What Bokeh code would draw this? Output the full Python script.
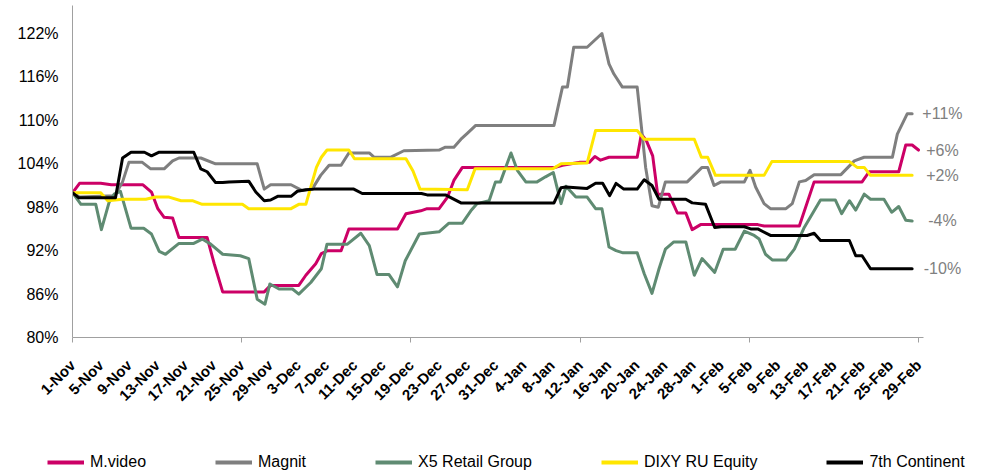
import math
from bokeh.plotting import figure
from bokeh.layouts import column
from bokeh.models import Range1d, FixedTicker, Legend, LegendItem, ColumnDataSource
from bokeh.core.properties import value
from bokeh.embed import file_html
from bokeh.resources import INLINE

# ---------------- data (days since 1-Nov, index level, 100 = start) ----------------
SERIES_NAMES = ["M.video", "Magnit", "X5 Retail Group", "DIXY RU Equity", "7th Continent"]
END_LABELS = ["+6%", "+11%", "-4%", "+2%", "-10%"]

MVIDEO_DAYS = [0, 1, 4, 5.5, 10, 11.2, 12.1, 13, 14.2, 15.1, 19.1, 20.1, 21.3, 27.2, 28.1, 32.1, 33.1,
               34.5, 35.3, 36.2, 38.1, 39.2, 46.1, 47.3, 49.4, 50.3, 52, 53.2, 54.1, 55.3, 68.5, 69.5,
               72, 73.3, 74.1, 74.9, 76.1, 80.1, 80.7, 81.4, 82.3, 83, 84.6, 85.8, 87, 87.9, 89.1, 97.2,
               98.1, 103.1, 105.2, 112, 113, 117.2, 118.2, 119.1, 120]
MVIDEO_VALS = [100, 101.3, 101.3, 101.1, 101.1, 100.1, 97.8, 96.6, 96.5, 93.8, 93.8, 90.2, 86.3, 86.3,
               87.2, 87.2, 88.6, 90.2, 91.6, 92.0, 92.0, 95.0, 95.0, 97.1, 97.5, 97.8, 97.8, 99.4, 101.7,
               103.5, 103.5, 103.8, 104.2, 104.2, 105.0, 104.5, 104.9, 104.9, 108.1, 107.2, 105.1, 99.8,
               99.8, 97.2, 97.2, 94.9, 95.6, 95.6, 95.4, 95.4, 101.5, 101.5, 102.9, 102.9, 106.6, 106.6,
               105.9]

MAGNIT_DAYS = [0, 1, 6, 7.1, 8, 9.9, 11.1, 13, 14.2, 15.1, 18.2, 20.3, 26.2, 27.2, 28.1, 31, 32.6, 34,
               35.2, 36.4, 38.1, 39.2, 42.1, 42.8, 45.1, 47, 52, 52.9, 54.1, 55.1, 56, 57.2, 68.3, 69.5,
               70.2, 71.1, 73, 75.1, 76.1, 76.8, 78, 80.1, 80.6, 81.3, 82.2, 83.1, 84.1, 87.2, 89.3, 90.1,
               91, 92, 95.3, 96.1, 96.9, 98.1, 99, 101.2, 102.1, 103.1, 104, 105.2, 109, 110.9, 112.3,
               116.3, 117, 118.4, 119.1]
MAGNIT_VALS = [100, 99.4, 99.6, 101.5, 104.2, 104.2, 103.3, 103.3, 104.4, 104.8, 104.8, 104.0, 104.0,
               100.5, 101.1, 101.1, 100.3, 100.5, 102.4, 103.8, 103.8, 105.5, 105.5, 104.9, 104.9, 105.8,
               105.9, 106.3, 106.3, 107.4, 108.2, 109.3, 109.3, 114.6, 114.6, 120.1, 120.1, 122.0, 117.8,
               116.4, 114.6, 114.6, 110.0, 103.5, 98.2, 98.0, 101.5, 101.5, 103.5, 103.5, 101.0, 101.5,
               101.5, 103.1, 100.8, 98.5, 97.8, 97.8, 98.5, 101.5, 101.7, 102.5, 102.5, 104.4, 104.9,
               104.9, 108.1, 110.9, 110.9]

X5_DAYS = [0, 1.2, 3.3, 4.1, 5.2, 5.9, 6.8, 8.3, 10.1, 11.2, 12.3, 13.2, 15.1, 17.2, 18.4, 19.6, 21.3,
           23.8, 25, 26.2, 27.3, 28, 29.3, 31.2, 32.1, 33.8, 35.3, 36.1, 39, 40.9, 42.1, 43.2, 44.9,
           46.1, 47.2, 49.2, 52, 53.4, 55.3, 56.5, 57.4, 59.1, 60, 60.7, 62.2, 63.1, 64.3, 65.9, 67.1,
           68.2, 69.3, 70, 71.4, 73, 74.2, 75.1, 76.1, 77.1, 78.1, 80.1, 81.1, 82.2, 83.2, 84.1, 85.3,
           87, 88.2, 89.3, 91.1, 92.3, 94, 95.3, 96.7, 97.4, 98.3, 99.3, 101.2, 102.4, 103.8, 105.2,
           106.1, 108.2, 109.1, 110.2, 111.1, 112.3, 113.2, 115.1, 116.2, 117.2, 118.2, 119.1]
X5_VALS = [100, 98.4, 98.4, 94.9, 98.7, 99.8, 100.2, 95.1, 95.1, 94.3, 91.9, 91.5, 93.0, 93.0, 93.6,
           92.9, 91.5, 91.3, 90.9, 85.3, 84.6, 87.4, 86.7, 86.7, 86.0, 87.6, 89.5, 92.9, 92.9, 94.4,
           92.7, 88.7, 88.7, 87.0, 90.6, 94.3, 94.6, 95.8, 95.8, 97.5, 98.5, 98.9, 101.5, 101.5, 105.5,
           103.1, 101.5, 101.5, 102.2, 102.8, 98.5, 100.9, 99.4, 99.4, 97.8, 97.8, 92.5, 92.0, 91.7,
           91.7, 88.8, 86.1, 89.5, 92.2, 93.2, 93.2, 88.6, 90.9, 89.0, 92.2, 92.2, 94.7, 94.1, 93.6,
           91.5, 90.7, 90.7, 92.2, 95.2, 97.5, 99.0, 99.0, 97.1, 98.9, 97.6, 99.8, 99.1, 99.1, 97.3,
           98.1, 96.2, 96.1]

DIXY_DAYS = [0, 4, 5, 7.1, 10.4, 11.8, 13.7, 15.4, 17, 18.4, 24.1, 25, 31, 32.1, 33.1, 34.6, 35.3, 36.1,
             39.2, 40, 47.3, 48.3, 49.3, 56, 57.1, 68.1, 69.3, 73, 74.2, 80.1, 81.1, 88.2, 89.2, 90.1,
             91.2, 98.1, 99.2, 110.2, 111.3, 112.3, 113.2, 119.1]
DIXY_VALS = [100, 100, 98.9, 99.1, 99.1, 99.4, 99.4, 98.9, 98.9, 98.4, 98.4, 97.8, 97.8, 98.4, 98.4,
             103.5, 104.9, 105.9, 105.9, 104.7, 104.7, 103.0, 100.5, 100.4, 103.3, 103.3, 104.0, 104.1,
             108.6, 108.6, 107.4, 107.4, 104.9, 104.9, 102.4, 102.4, 104.3, 104.3, 103.5, 103.5, 102.4,
             102.4]

SEVENTH_DAYS = [0, 0.9, 6.1, 7.1, 8.3, 10.2, 11.2, 12.3, 17.2, 18.2, 19.1, 20.3, 21.3, 22.2, 25, 26,
                27.2, 28.1, 29.1, 31, 31.9, 33.1, 34.3, 39.9, 41.1, 49.5, 50.3, 52.9, 55.1, 68.3, 69.3,
                70, 73, 74.2, 75.2, 76.2, 77.1, 78.2, 80.1, 81.1, 82.2, 83.2, 87, 87.9, 89.8, 91.1, 92,
                95.3, 96.2, 97.2, 99, 104.2, 105.2, 106.1, 110.2, 111.1, 112, 113.2, 119.1]
SEVENTH_VALS = [100, 99.3, 99.3, 104.8, 105.6, 105.6, 105.1, 105.6, 105.6, 103.3, 102.9, 101.4, 101.4,
                101.5, 101.6, 100.1, 98.9, 99.0, 99.5, 99.5, 100.2, 100.4, 100.5, 100.5, 99.9, 99.9, 99.7,
                99.7, 98.6, 98.6, 100.7, 100.8, 100.6, 101.3, 101.3, 99.6, 101.3, 100.5, 100.5, 101.8,
                101.0, 99.1, 99.1, 98.6, 98.4, 95.2, 95.3, 95.3, 95.0, 95.0, 94.1, 94.1, 94.4, 93.4, 93.4,
                91.3, 91.3, 89.5, 89.5]

X_TICK_DAYS = list(range(0, 121, 4))
X_TICK_LABELS = ["1-Nov", "5-Nov", "9-Nov", "13-Nov", "17-Nov", "21-Nov", "25-Nov", "29-Nov",
                 "3-Dec", "7-Dec", "11-Dec", "15-Dec", "19-Dec", "23-Dec", "27-Dec", "31-Dec",
                 "4-Jan", "8-Jan", "12-Jan", "16-Jan", "20-Jan", "24-Jan", "28-Jan",
                 "1-Feb", "5-Feb", "9-Feb", "13-Feb", "17-Feb", "21-Feb", "25-Feb", "29-Feb"]
X_MAJOR_MARKS = list(range(0, 121, 24))
Y_TICKS = [80, 86, 92, 98, 104, 110, 116, 122]
Y_TICK_LABELS = ["80%", "86%", "92%", "98%", "104%", "110%", "116%", "122%"]

SERIES = [(MVIDEO_DAYS, MVIDEO_VALS), (MAGNIT_DAYS, MAGNIT_VALS), (X5_DAYS, X5_VALS),
          (DIXY_DAYS, DIXY_VALS), (SEVENTH_DAYS, SEVENTH_VALS)]
COLORS = ["#CC0066", "#7F7F7F", "#5F8B72", "#FFE600", "#000000"]

FONT = "Liberation Sans"
AXIS_GRAY = "#A0A0A0"

W = 980
p = figure(width=W, height=438, x_range=Range1d(0, 127.38), y_range=Range1d(80, 125.87),
           output_backend="svg", toolbar_location=None,
           min_border_left=72, min_border_right=10, min_border_top=5, min_border_bottom=101)
p.outline_line_color = None
p.xgrid.visible = False
p.ygrid.visible = False
p.background_fill_color = "white"
p.border_fill_color = "white"

for (d, v), c in zip(SERIES, COLORS):
    p.line(d, v, line_color=c, line_width=3, line_join="round", line_cap="round")

# end labels
LABEL_X = 123.4
src = ColumnDataSource(dict(x=[LABEL_X] * len(SERIES), y=[s[1][-1] for s in SERIES], t=END_LABELS))
p.text(x="x", y="y", text="t", source=src, text_align="center", text_baseline="middle",
       text_color="#808080", text_font=value(FONT), text_font_size="16px")

# x axis
xa = p.xaxis[0]
xa.ticker = FixedTicker(ticks=X_TICK_DAYS, minor_ticks=X_MAJOR_MARKS)
xa.major_label_overrides = {d: l for d, l in zip(X_TICK_DAYS, X_TICK_LABELS)}
xa.major_label_orientation = math.pi / 4
xa.major_label_text_font = FONT
xa.major_label_text_font_style = "bold"
xa.major_label_text_font_size = "15px"
xa.major_label_text_color = "#000000"
xa.major_tick_out = 0
xa.major_tick_in = 0
xa.minor_tick_out = 5
xa.minor_tick_in = 0
xa.minor_tick_line_color = AXIS_GRAY
xa.axis_line_color = AXIS_GRAY
xa.bounds = (0, 120.7)
xa.major_label_standoff = 20

# y axis
ya = p.yaxis[0]
ya.ticker = FixedTicker(ticks=Y_TICKS)
ya.major_label_overrides = {t: l for t, l in zip(Y_TICKS, Y_TICK_LABELS)}
ya.major_label_text_font = FONT
ya.major_label_text_font_size = "16px"
ya.major_label_text_color = "#000000"
ya.major_tick_out = 0
ya.major_tick_in = 0
ya.minor_tick_line_color = None
ya.axis_line_color = AXIS_GRAY
ya.major_label_standoff = 14

# legend strip below the chart (its series lie outside its 0..1 ranges, only the key shows)
leg = figure(width=W, height=32, x_range=Range1d(0, 1), y_range=Range1d(0, 1),
             output_backend="svg", toolbar_location=None, x_axis_type=None, y_axis_type=None,
             min_border=0)
leg.frame_align = False
leg.outline_line_color = None
leg.background_fill_color = "white"
leg.border_fill_color = "white"
items = []
for n, (d, v), c in zip(SERIES_NAMES, SERIES, COLORS):
    r = leg.line(d, v, line_color=c, line_width=4)
    items.append(LegendItem(label=n, renderers=[r]))
legend = Legend(items=items, orientation="horizontal", location=(47, -1), spacing=69, glyph_width=37,
                glyph_height=16, label_height=16, label_standoff=6, padding=0, margin=0,
                border_line_color=None, background_fill_alpha=0,
                label_text_font=FONT, label_text_font_size="16px", label_text_color="#000000")
leg.add_layout(legend)

open("out.html", "w").write(file_html(column(p, leg, spacing=0), INLINE))
